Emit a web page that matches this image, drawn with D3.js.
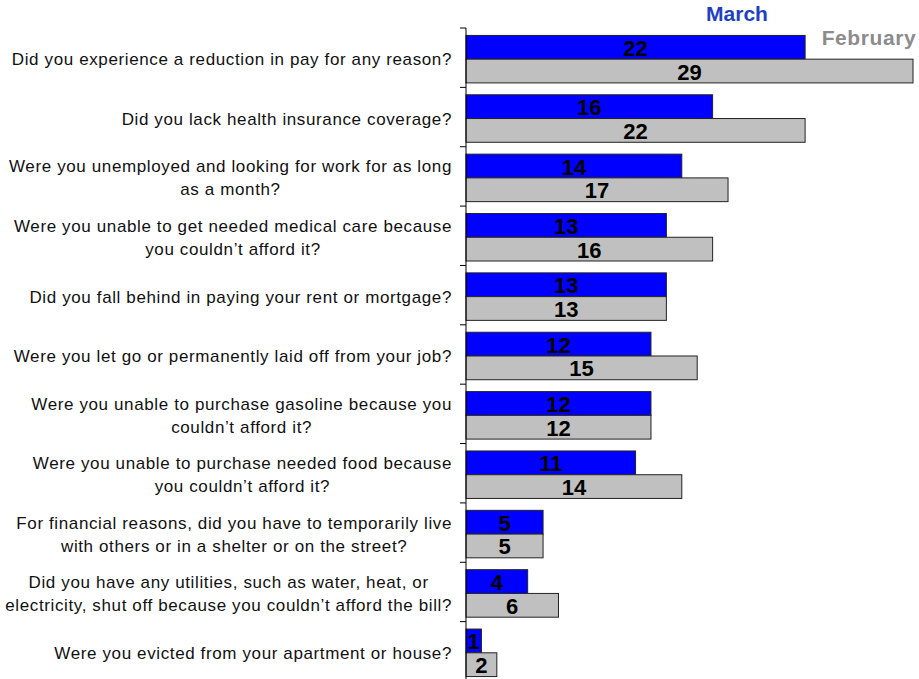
<!DOCTYPE html>
<html lang="en">
<head>
    <meta charset="UTF-8">
    <title>Economic hardship: March vs February</title>
    <script src="https://d3js.org/d3.v7.min.js"></script>
    <style>
        body {
            margin: 0;
            background: #fff;
            font-family: Arial, "Liberation Sans", sans-serif;
        }
        .cat { font-size: 17px; fill: #111; letter-spacing: 0.62px; }
        .val { font-size: 22px; font-weight: bold; fill: #000; }
    </style>
</head>
<body>
<div id="chart"></div>
<script>
    // question text, one entry per line
    const questions = [
        ["Did you experience a reduction in pay for any reason?"],
        ["Did you lack health insurance coverage?"],
        ["Were you unemployed and looking for work for as long", "as a month?"],
        ["Were you unable to get needed medical care because", "you couldn\u2019t afford it?"],
        ["Did you fall behind in paying your rent or mortgage?"],
        ["Were you let go or permanently laid off from your job?"],
        ["Were you unable to purchase gasoline because you", "couldn\u2019t afford it?"],
        ["Were you unable to purchase needed food because", "you couldn\u2019t afford it?"],
        ["For financial reasons, did you have to temporarily live", "with others or in a shelter or on the street?"],
        ["Did you have any utilities, such as water, heat, or", "electricity, shut off because you couldn\u2019t afford the bill?"],
        ["Were you evicted from your apartment or house?"]
    ];
    const march = [22, 16, 14, 13, 13, 12, 12, 11, 5, 4, 1];
    const february = [29, 22, 17, 16, 13, 15, 12, 14, 5, 6, 2];
    const seriesNames = ["March", "February"];

    const width = 919, height = 679;
    const svg = d3.select("#chart").append("svg")
        .attr("width", width)
        .attr("height", height);

    const x = d3.scaleLinear().domain([0, 29]).range([466, 913]);
    const y = d3.scaleBand().domain(d3.range(questions.length)).range([28, 681]);
    const inner = d3.scaleBand().domain(seriesNames)
        .range([y.bandwidth() * 0.125, y.bandwidth() * 0.925]);

    const colors = {March: "#0000ff", February: "#c0c0c0"};

    const rows = questions.map((q, i) => ({i, q, March: march[i], February: february[i]}));

    const g = svg.selectAll("g.row").data(rows).join("g")
        .attr("class", "row")
        .attr("transform", d => `translate(0,${y(d.i)})`);

    seriesNames.forEach(s => {
        g.append("rect")
            .attr("x", x(0))
            .attr("y", inner(s))
            .attr("width", d => x(d[s]) - x(0))
            .attr("height", inner.bandwidth())
            .attr("fill", colors[s])
            .attr("stroke", "#222")
            .attr("stroke-width", 1);
        g.append("text")
            .attr("class", "val")
            .attr("x", d => (x(0) + x(d[s])) / 2)
            .attr("y", inner(s) + inner.bandwidth() / 2 + 8.5)
            .attr("text-anchor", "middle")
            .text(d => d[s]);
    });

    // question labels: lines centred on each other, block right-aligned to the axis
    const mid = y.bandwidth() * 0.525;
    g.each(function(d) {
        const t = d3.select(this).append("text")
            .attr("class", "cat")
            .attr("text-anchor", "middle");
        const n = d.q.length;
        d.q.forEach((line, k) => {
            t.append("tspan")
                .attr("x", 0)
                .attr("y", mid + (k - (n - 1) / 2) * 23 + 6)
                .text(line);
        });
        const w = d3.max(t.selectAll("tspan").nodes(), n => n.getComputedTextLength());
        t.selectAll("tspan").attr("x", 452 - w / 2);
    });

    // axis line with tick marks at category boundaries
    const axis = svg.append("g").attr("stroke", "#000").attr("stroke-width", 1);
    axis.append("line")
        .attr("x1", x(0)).attr("x2", x(0))
        .attr("y1", y.range()[0]).attr("y2", y.range()[1]);
    axis.selectAll("line.tick").data(d3.range(questions.length)).join("line")
        .attr("class", "tick")
        .attr("x1", x(0) - 6).attr("x2", x(0))
        .attr("y1", d => y(d)).attr("y2", d => y(d));

    // series titles
    svg.append("text")
        .attr("x", 737).attr("y", 21)
        .attr("text-anchor", "middle")
        .attr("font-size", 21).attr("font-weight", "bold")
        .attr("fill", "#1f3fc4")
        .text(seriesNames[0]);
    svg.append("text")
        .attr("x", 869).attr("y", 45)
        .attr("text-anchor", "middle")
        .attr("font-size", 21).attr("font-weight", "bold")
        .attr("fill", "#8c8c8c")
        .attr("letter-spacing", 0.6)
        .text(seriesNames[1]);
</script>
</body>
</html>
